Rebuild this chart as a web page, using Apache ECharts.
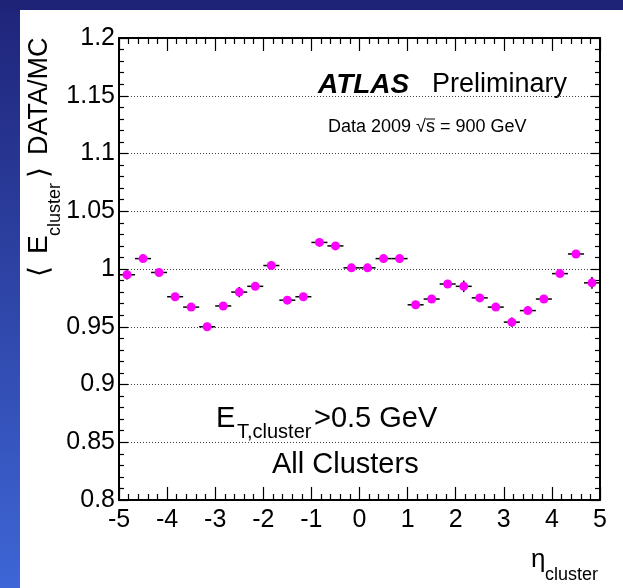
<!DOCTYPE html>
<html>
<head>
<meta charset="utf-8">
<script src="https://cdn.jsdelivr.net/npm/echarts@6/dist/echarts.min.js"></script>
<style>
  html, body { margin: 0; padding: 0; background: #fff; }
  #chart { width: 623px; height: 588px; }
</style>
</head>
<body>
<div id="chart"></div>
<script>
// bin centres in eta (bins of width 1/3 from -5 to 5)
const etaBins = [-4.833, -4.5, -4.167, -3.833, -3.5, -3.167, -2.833, -2.5, -2.167, -1.833,
  -1.5, -1.167, -0.833, -0.5, -0.167, 0.167, 0.5, 0.833, 1.167, 1.5,
  1.833, 2.167, 2.5, 2.833, 3.167, 3.5, 3.833, 4.167, 4.5, 4.833]
// <E_cluster> DATA/MC
const ratio = [0.995, 1.009, 0.997, 0.976, 0.967, 0.950, 0.968, 0.980, 0.985, 1.003,
  0.973, 0.976, 1.023, 1.020, 1.001, 1.001, 1.009, 1.009, 0.969, 0.974,
  0.987, 0.985, 0.975, 0.967, 0.954, 0.964, 0.974, 0.996, 1.013, 0.988]
// statistical error on the ratio
const ratioErr = [0.004, 0.002, 0.002, 0.002, 0.002, 0.002, 0.002, 0.0045, 0.002, 0.002,
  0.002, 0.002, 0.002, 0.002, 0.002, 0.002, 0.002, 0.002, 0.002, 0.002,
  0.002, 0.005, 0.002, 0.002, 0.004, 0.002, 0.002, 0.002, 0.002, 0.005]
const binHalfWidth = 1 / 6

const xRange = { min: -5, max: 5, interval: 1 }
const yRange = { min: 0.8, max: 1.2, interval: 0.05 }

const FONT = 'Liberation Sans, Arial, Helvetica, sans-serif'

const chart = echarts.init(document.getElementById('chart'))

// shared axis look (ROOT style frame with inside ticks)
const frameAxis = (pos, isX, showLabel) => ({
  type: 'value',
  position: pos,
  min: isX ? xRange.min : yRange.min,
  max: isX ? xRange.max : yRange.max,
  interval: isX ? xRange.interval : yRange.interval,
  axisLine: { show: true, onZero: false, lineStyle: { color: '#000', width: 2 } },
  axisTick: { show: true, inside: true, length: isX ? 13 : 9, lineStyle: { color: '#000', width: 1.2 } },
  minorTick: { show: true, splitNumber: 5, length: isX ? 6 : 5, lineStyle: { color: '#000', width: 1.2 } },
  axisLabel: {
    show: showLabel,
    color: '#000',
    fontFamily: FONT,
    fontSize: 25,
    margin: isX ? 8 : 4
  },
  splitLine: {
    show: !isX && showLabel,
    lineStyle: { color: '#444', width: 1, type: [1, 2] }
  }
})

const txt = (text, x, y, size, extra) => ({
  type: 'text',
  x: x,
  y: y,
  rotation: (extra && extra.rotation) || 0,
  style: Object.assign({
    text: text,
    fill: '#000',
    font: size + 'px ' + FONT,
    align: 'left',
    verticalAlign: 'middle'
  }, extra && extra.style)
})

const option = {
  backgroundColor: '#fff',
  animation: false,
  grid: { left: 119, top: 38, width: 481, height: 462 },
  xAxis: [frameAxis('bottom', true, true), frameAxis('top', true, false)],
  yAxis: [frameAxis('left', false, true), frameAxis('right', false, false)],
  graphic: [
    // slide background bands
    { type: 'rect', shape: { x: 0, y: 0, width: 20, height: 588 },
      style: { fill: new echarts.graphic.LinearGradient(0, 0, 0, 1, [
        { offset: 0, color: '#1f2479' }, { offset: 1, color: '#3e66d6' }]) } },
    { type: 'rect', shape: { x: 0, y: 0, width: 623, height: 10 }, style: { fill: '#1e2378' } },

    // y axis title, rotated
    txt('\u27E8', 40, 277, 28, { rotation: Math.PI / 2 }),
    txt('E', 39.5, 254, 28, { rotation: Math.PI / 2 }),
    txt('cluster', 55.5, 236, 18, { rotation: Math.PI / 2 }),
    txt('\u27E9', 40, 178, 28, { rotation: Math.PI / 2 }),
    txt('DATA/MC', 39.5, 155, 27, { rotation: Math.PI / 2 }),

    // x axis title
    txt('\u03B7', 531, 560, 26),
    txt('cluster', 545, 575, 18),

    // labels
    txt('ATLAS', 318, 85, 28, { style: { font: 'italic bold 28px ' + FONT } }),
    txt('Preliminary', 432, 85, 27),
    txt('Data 2009 \u221As = 900 GeV', 328, 127, 18),
    { type: 'line', shape: { x1: 426, y1: 119, x2: 435, y2: 119 }, style: { stroke: '#000', lineWidth: 1 } },
    txt('E', 216, 419, 29),
    txt('T,cluster', 237, 432, 20),
    txt('>0.5 GeV', 314, 419, 29),
    txt('All Clusters', 272, 465, 29)
  ],
  series: [
    {
      name: 'errors',
      type: 'custom',
      data: etaBins.map((x, i) => [x, ratio[i], ratioErr[i]]),
      z: 3,
      renderItem: (params, api) => {
        const x = api.value(0)
        const y = api.value(1)
        const e = api.value(2)
        const l = api.coord([x - binHalfWidth, y])
        const r = api.coord([x + binHalfWidth, y])
        const t = api.coord([x, y + e])
        const b = api.coord([x, y - e])
        return {
          type: 'group',
          children: [
            { type: 'line', shape: { x1: l[0], y1: l[1], x2: r[0], y2: r[1] }, style: { stroke: '#000', lineWidth: 1.5 } },
            { type: 'line', shape: { x1: t[0], y1: t[1], x2: b[0], y2: b[1] }, style: { stroke: '#000', lineWidth: 1.5 } }
          ]
        }
      }
    },
    {
      name: 'DATA/MC',
      type: 'scatter',
      data: etaBins.map((x, i) => [x, ratio[i]]),
      symbol: 'circle',
      symbolSize: 9,
      z: 4,
      itemStyle: { color: '#ff00ff', opacity: 1 }
    }
  ]
}

chart.setOption(option)
</script>
</body>
</html>
